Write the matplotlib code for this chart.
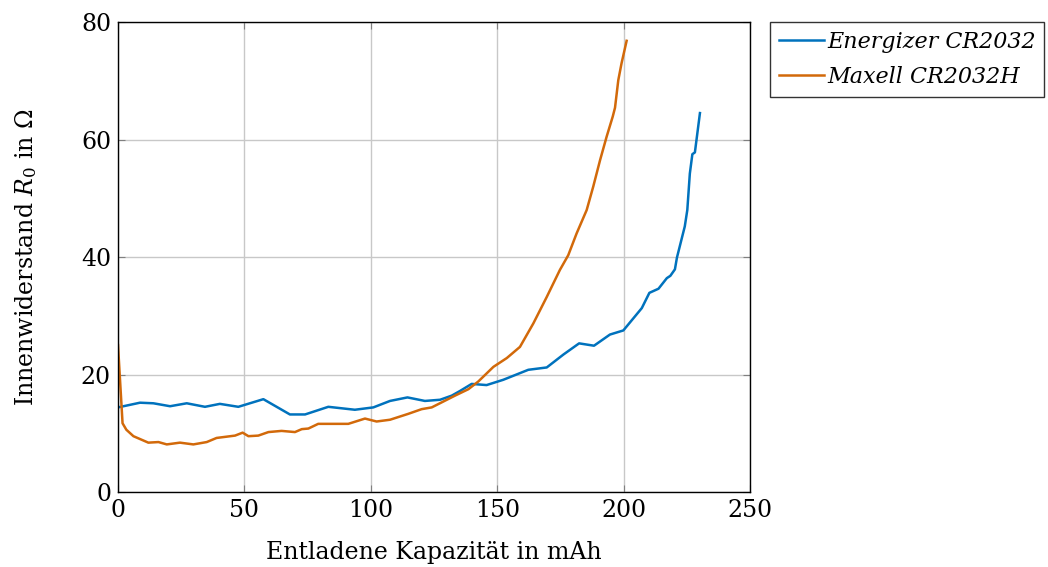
import matplotlib
matplotlib.use("Agg")
import matplotlib.pyplot as plt

energizer_cap = [0, 8.7, 14, 20.6, 27.2, 34.4, 40.3, 47.6, 57.5, 68, 74, 83.2, 93.7, 101, 107.6,
                 114.5, 121.4, 127.4, 132, 135.3, 139.9, 145.8, 152.4, 162.3, 169.6, 176.2,
                 182.4, 188.3, 194.6, 199.9, 207.2, 210.2, 213.8, 217.1, 218.5, 220.3, 221.1,
                 224.2, 225.2, 226.2, 227.2, 228.2, 230.2]
energizer_r = [14.4, 15.2, 15.1, 14.6, 15.1, 14.5, 15.0, 14.5, 15.8, 13.2, 13.2, 14.5, 14.0, 14.4, 15.5,
               16.1, 15.5, 15.7, 16.4, 17.2, 18.4, 18.2, 19.1, 20.8, 21.2, 23.4,
               25.3, 24.9, 26.8, 27.5, 31.3, 33.9, 34.6, 36.4, 36.8, 37.9, 39.9,
               45.2, 48.0, 54.2, 57.5, 57.8, 64.5]

maxell_cap = [0, 1.8, 3.3, 6.1, 12, 16, 19.3, 24.5, 29.8, 35.1, 39, 46.3, 49.3, 51.6, 55.5, 59.5,
              64.7, 70, 72.7, 75.3, 79.2, 91.1, 97.7, 102.3, 107.6, 114.8, 120.1, 124.1, 128.7,
              133.3, 138.6, 142.5, 148.5, 153.8, 159, 164.3, 169.6, 174.8, 178.1, 181.4, 185.4,
              188, 190.7, 193.3, 195.7, 196.6, 197.9, 199.2, 201.2]
maxell_r = [25.0, 11.7, 10.6, 9.5, 8.4, 8.5, 8.1, 8.4, 8.1, 8.5, 9.2, 9.6, 10.1, 9.5, 9.6, 10.2,
            10.4, 10.2, 10.7, 10.8, 11.6, 11.6, 12.5, 12.0, 12.3, 13.3, 14.1, 14.4, 15.4,
            16.4, 17.5, 18.8, 21.3, 22.8, 24.7, 28.7, 33.2, 37.8, 40.3, 44.0, 48.0,
            52.0, 56.5, 60.5, 63.9, 65.4, 70.1, 73.0, 76.8]

labels = ["Energizer CR2032", "Maxell CR2032H"]
xticks = [0, 50, 100, 150, 200, 250]
yticks = [0, 20, 40, 60, 80]

plt.rcParams["font.family"] = ["DejaVu Serif"]
plt.rcParams["mathtext.fontset"] = "dejavuserif"

fig = plt.figure(figsize=(10.48, 5.67), dpi=100)
ax = fig.add_axes([118/1048, 75/567, 632/1048, 470/567])

ax.plot(energizer_cap, energizer_r, color="#0072BD", lw=1.8, label=labels[0])
ax.plot(maxell_cap, maxell_r, color="#D2690A", lw=1.8, label=labels[1])

ax.set_xlim(0, 250)
ax.set_ylim(0, 80)
ax.set_xticks(xticks)
ax.set_yticks(yticks)
ax.grid(True, color="#c8c8c8", lw=1.0)
ax.set_axisbelow(True)
ax.tick_params(direction="in", top=True, right=True, length=5, color="#808080",
               labelsize=17, pad=5)
for s in ax.spines.values():
    s.set_color("black")
    s.set_linewidth(1.0)

ax.set_xlabel("Entladene Kapazität in mAh", fontsize=17, labelpad=14)
ax.set_ylabel(r"Innenwiderstand $R_0$ in Ω", fontsize=17, labelpad=30)

leg = ax.legend(loc="upper left", bbox_to_anchor=(1.032, 1.0),
                prop={"style": "italic", "size": 16}, frameon=True, fancybox=False,
                handlelength=2.0, handletextpad=0.15, borderpad=0.4, labelspacing=0.6,
                borderaxespad=0)
leg.get_frame().set_edgecolor("black")
leg.get_frame().set_linewidth(1.0)

fig.savefig("out.png", dpi=100)
